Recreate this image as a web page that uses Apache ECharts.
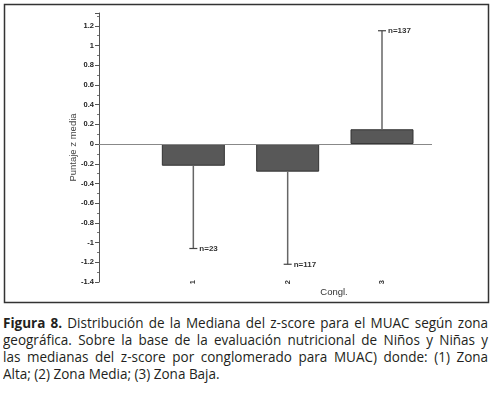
<!DOCTYPE html>
<html>
<head>
<meta charset="utf-8">
<script src="https://cdn.jsdelivr.net/npm/echarts@6/dist/echarts.min.js"></script>
<style>
  html, body { margin: 0; padding: 0; background: #fff; overflow: hidden; }
  #chart { position: absolute; left: 0; top: 0; width: 496px; height: 306px; }
  #caption { position: absolute; left: 3px; top: 314px; width: 539px;
             transform: scaleX(0.9); transform-origin: 0 0;
             font-family: "Open Sans", sans-serif; font-size: 15px; line-height: 17px; color: #231f20; }
  #caption div { text-align: justify; text-align-last: justify; white-space: nowrap; }
  #caption div.last { text-align-last: left; }
</style>
</head>
<body>
<div id="chart"></div>
<div id="caption">
  <div><b>Figura 8.</b> Distribución de la Mediana del z-score para el MUAC según zona</div>
  <div>geográfica. Sobre la base de la evaluación nutricional de Niños y Niñas y</div>
  <div>las medianas del z-score por conglomerado para MUAC) donde: (1) Zona</div>
  <div class="last">Alta; (2) Zona Media; (3) Zona Baja.</div>
</div>
<script>
// datos
var congl = [1, 2, 3];
var medias = [-0.22, -0.28, 0.15];
var extremos = [-1.06, -1.22, 1.15];
var etiquetasN = ['n=23', 'n=117', 'n=137'];

var chart = echarts.init(document.getElementById('chart'));

var barData = congl.map(function (c, i) { return [c, medias[i]]; });
var errData = congl.map(function (c, i) { return [c, medias[i], extremos[i]]; });

var option = {
    animation: false,
    grid: { left: 99, right: 64, top: 13, bottom: 24 },
    xAxis: {
        type: 'value',
        min: 0,
        max: 3.53,
        interval: 1,
        axisLine: { show: false },
        axisTick: { show: false },
        splitLine: { show: false },
        axisLabel: {
            rotate: 90,
            margin: -2,
            fontSize: 7.5,
            fontWeight: 'bold',
            color: '#333',
            fontFamily: 'Liberation Sans',
            formatter: function (v) { return (v >= 1 && v <= 3 && v % 1 === 0) ? String(v) : ''; }
        }
    },
    yAxis: {
        type: 'value',
        min: -1.4,
        max: 1.33,
        interval: 0.2,
        name: 'Puntaje z media',
        nameLocation: 'middle',
        nameGap: 21,
        nameMoveOverlap: false,
        nameTextStyle: { fontSize: 9.5, color: '#444', fontFamily: 'Liberation Sans' },
        axisLine: { show: true, lineStyle: { color: '#555', width: 1 } },
        axisTick: { show: true, length: 4, lineStyle: { color: '#555' } },
        minorTick: { show: true, splitNumber: 2, length: 2, lineStyle: { color: '#777' } },
        splitLine: { show: false },
        axisLabel: {
            showMaxLabel: false,
            fontSize: 7.5,
            fontWeight: 'bold',
            color: '#222',
            margin: 5,
            fontFamily: 'Liberation Sans'
        }
    },
    graphic: [
        {
            type: 'rect',
            shape: { x: 4.5, y: 4.5, width: 484, height: 298 },
            style: { fill: 'none', stroke: '#333', lineWidth: 1.5 },
            silent: true
        },
        {
            type: 'text',
            x: 334, y: 292,
            style: { text: 'Congl.', fontSize: 9.5, fill: '#333', fontFamily: 'Liberation Sans', align: 'center', verticalAlign: 'middle' }
        }
    ],
    series: [
        {
            type: 'bar',
            data: barData,
            barWidth: 63,
            itemStyle: { color: '#585858', borderColor: '#333', borderWidth: 1 },
            markLine: {
                silent: true,
                symbol: 'none',
                label: { show: false },
                lineStyle: { color: '#888', type: 'solid', width: 1 },
                data: [{ yAxis: 0 }]
            },
            z: 3
        },
        {
            type: 'custom',
            data: errData,
            renderItem: function (params, api) {
                var x = api.value(0);
                var p0 = api.coord([x, api.value(1)]);
                var p1 = api.coord([x, api.value(2)]);
                var i = params.dataIndex;
                return {
                    type: 'group',
                    children: [
                        { type: 'line', shape: { x1: p0[0], y1: p0[1], x2: p1[0], y2: p1[1] },
                          style: { stroke: '#666', lineWidth: 1.5 } },
                        { type: 'line', shape: { x1: p1[0] - 4, y1: p1[1], x2: p1[0] + 4, y2: p1[1] },
                          style: { stroke: '#444', lineWidth: 1.2 } },
                        { type: 'text', x: p1[0] + 6, y: p1[1] + 0.5,
                          style: { text: etiquetasN[i], fontSize: 8, fontWeight: 'bold', fill: '#333', fontFamily: 'Liberation Sans',
                                   align: 'left', verticalAlign: 'middle' } }
                    ]
                };
            },
            z: 4
        }
    ]
};

chart.setOption(option);
</script>
</body>
</html>
